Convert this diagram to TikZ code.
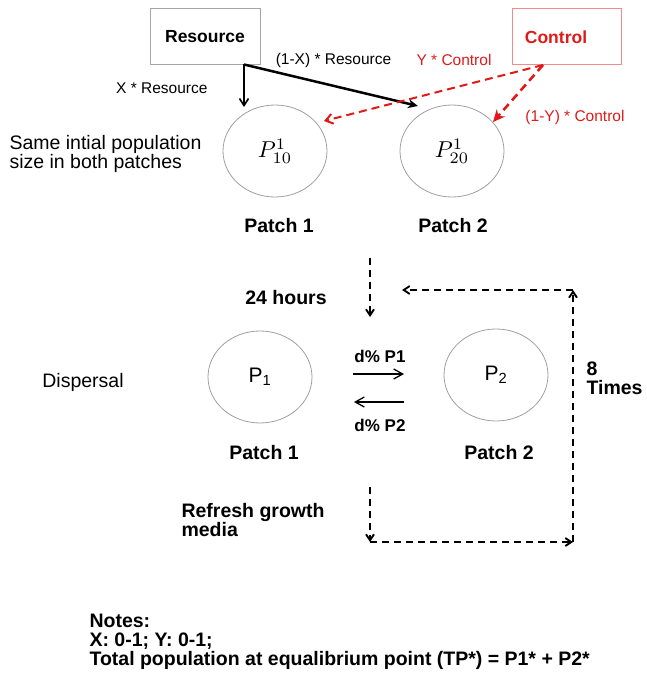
\documentclass[tikz,border=0pt]{standalone}
\usepackage{fontspec}
\setmainfont{Liberation Sans}
\usetikzlibrary{arrows.meta}
\usetikzlibrary{shapes.geometric}
\definecolor{mred}{rgb}{0.88, 0.1, 0.1}
\definecolor{mpink}{rgb}{0.95, 0.55, 0.55}
\tikzset{patch/.style = {draw=gray!75, line width=0.8pt, ellipse, inner sep=0pt,
                         minimum width=104pt, minimum height=92pt},
         srcbox/.style = {draw, line width=0.8pt, minimum width=110pt, minimum height=56pt},
         srctext/.style = {font=\fontsize{17.5}{20}\selectfont\bfseries},
         txt/.style = {font=\fontsize{19.5}{19}\selectfont, align=left},
         bold/.style = {font=\fontsize{19.5}{19}\selectfont\bfseries, align=left},
         lbl/.style = {font=\fontsize{15.5}{18}\selectfont},
         barb/.style = {-{Straight Barb[length=7pt, width=9pt]}},
         loop/.style = {line width=1.9pt, dash pattern=on 7pt off 5pt,
                        -{Straight Barb[length=6pt, width=8pt]}}}

\begin{document}
\begin{tikzpicture}[x=1pt, y=-1pt]
      \useasboundingbox (0, 0) rectangle (646, 674);

      \node [srcbox, srctext, draw=gray!70] (res) at (205, 36.5) {Resource};
      \node [srcbox, draw=mpink, minimum width=109pt] (ctl) at (566.5, 36.5) {};
      \node [srctext, mred] (ctltext) at (556, 37) {Control};

      \node [patch] (p10) at (275, 151) {\scalebox{2.3}{$P^{1}_{10}$}};
      \node [patch] (p20) at (452, 151) {\scalebox{2.3}{$P^{1}_{20}$}};
      \node [bold] (patcha) at (279, 226) {Patch 1};
      \node [bold] (patchb) at (453, 226) {Patch 2};
      \node [txt, anchor=west] (same) at (6, 154) {Same intial population\\size in both patches};

      \coordinate (rescorner) at (244, 64.5);
      \coordinate (xtip) at (244, 107);
      \coordinate (xxtip) at (418, 106);
      \coordinate (ctlfoot) at (543, 65);
      \coordinate (ytip) at (324, 121);
      \coordinate (yytip) at (493, 122);

      \draw [line width=1.6pt, barb] (rescorner) -- (xtip);
      \draw [line width=2.5pt, -{Stealth[length=10pt, width=9pt]}] (rescorner) -- (xxtip);
      \draw [mred, line width=2pt, dash pattern=on 8pt off 5pt,
             -{Straight Barb[length=7pt, width=10pt]}] (ctlfoot) -- (ytip);
      \draw [mred, line width=2.6pt, dash pattern=on 8pt off 5pt,
             -{Stealth[length=12pt, width=11pt]}] (ctlfoot) -- (yytip);

      \node [lbl, anchor=east] (xlab) at (211, 88) {X * Resource};
      \node [lbl] (xxlab) at (333.5, 60) {(1-X) * Resource};
      \node [lbl, mred] (ylab) at (454, 60) {Y * Control};
      \node [lbl, mred] (yylab) at (575, 117) {(1-Y) * Control};

      \node [bold] (hours) at (286, 298) {24 hours};
      \node [txt] (disp) at (83, 382) {Dispersal};
      \node [patch] (p1) at (260, 377) {\fontsize{21}{24}\selectfont P\textsubscript{1}};
      \node [patch] (p2) at (496, 375) {\fontsize{21}{24}\selectfont P\textsubscript{2}};
      \node [bold] (patchc) at (264, 453) {Patch 1};
      \node [bold] (patchd) at (499, 453) {Patch 2};

      \node [lbl, font=\fontsize{17}{18}\selectfont\bfseries] (dpa) at (380, 356) {d\% P1};
      \node [lbl, font=\fontsize{17}{18}\selectfont\bfseries] (dpb) at (380, 425) {d\% P2};
      \coordinate (da) at (353, 374);
      \coordinate (db) at (404, 374);
      \coordinate (dc) at (404, 402);
      \coordinate (dd) at (354, 402);
      \draw [line width=1.3pt, -{Straight Barb[length=9pt, width=10pt]}] (da) -- (db);
      \draw [line width=1.3pt, -{Straight Barb[length=9pt, width=10pt]}] (dc) -- (dd);

      \coordinate (downa) at (370, 258);
      \coordinate (downb) at (370, 317);
      \coordinate (downc) at (370, 487);
      \coordinate (bl) at (370, 542);
      \coordinate (br) at (573, 542);
      \coordinate (tr) at (573, 290);
      \coordinate (tl) at (402, 290);
      \draw [loop] (downa) -- (downb);
      \draw [loop] (downc) -- (bl);
      \draw [loop] (bl) -- (br);
      \draw [loop] (br) -- (tr);
      \draw [loop] (tr) -- (tl);

      \node [bold, anchor=west] (times) at (583, 378) {8\\Times};
      \node [bold, anchor=west] (refresh) at (178, 520) {Refresh growth\\media};

      \node [bold, anchor=north west] (notes) at (86, 611)
            {Notes:\\X: 0-1; Y: 0-1;\\Total population at equalibrium point (TP*) = P1* + P2*};
    \end{tikzpicture}
\end{document}
